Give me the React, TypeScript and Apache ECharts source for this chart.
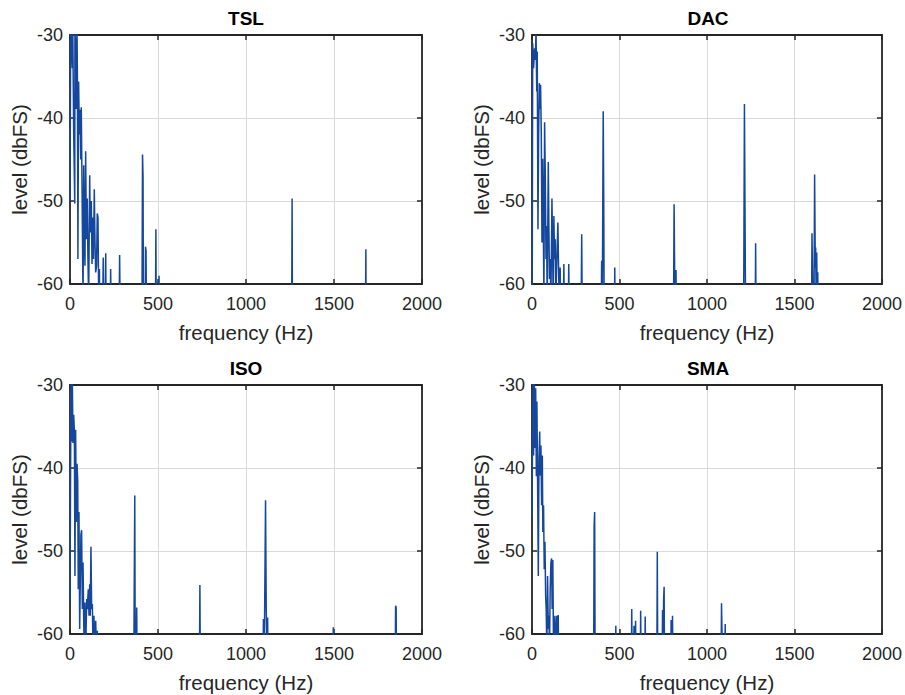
import React, { useEffect, useRef } from "react";
import * as echarts from "echarts";

// ---- Data ----
const freqTicks = [0, 500, 1000, 1500, 2000];
const levelTicks = [-60, -50, -40, -30];

const tslFreq = [0, 4, 8, 13, 15, 21, 27, 28, 32, 36, 40, 42, 45, 49, 53, 57, 61, 64, 68, 74, 78, 81, 85, 89, 93, 98, 102, 106, 112, 115, 121, 125, 129, 133, 138, 142, 146, 151, 155, 159, 163, 167, 170, 184, 189, 193, 199, 203, 206, 227, 231, 235, 278, 282, 286, 408, 412, 415, 418, 426, 429, 432, 436, 484, 488, 491, 503, 506, 509, 1258, 1262, 1265, 1677, 1681, 1684, 2000];
const tslLevel = [-50, -29, -31, -34, -27, -42, -50.3, -29, -31, -38.9, -29.5, -35, -57, -35.6, -42, -39, -45, -38.7, -47.3, -62, -45.7, -53, -57.8, -44, -54.6, -49.7, -57, -62, -46.9, -53.8, -50, -57.6, -52, -57, -48.6, -55, -58.6, -57.8, -51.5, -52, -62, -58.2, -66, -66, -56.8, -66, -66, -56.3, -66, -66, -58.2, -66, -66, -56.5, -66, -70, -44.4, -47, -70, -70, -55.5, -56, -70, -70, -53.4, -70, -70, -59, -70, -72, -49.7, -72, -72, -55.8, -72, -72];

const dacFreq = [0, 4, 9, 15, 19, 23, 27, 30, 34, 38, 42, 45, 49, 53, 57, 61, 64, 68, 72, 76, 80, 83, 87, 93, 97, 100, 104, 108, 114, 117, 121, 125, 129, 133, 136, 142, 148, 151, 155, 161, 165, 178, 182, 186, 206, 210, 214, 280, 284, 288, 395, 398, 401, 404, 407, 410, 413, 470, 473, 476, 808, 812, 815, 818, 823, 826, 1209, 1214, 1217, 1219, 1222, 1275, 1278, 1281, 1597, 1600, 1605, 1612, 1615, 1619, 1621, 1624, 1627, 1630, 1633, 1636, 2000];
const dacLevel = [-75, -31, -34, -31.6, -33, -29.4, -36.8, -32, -53.4, -42, -35.8, -38.9, -36, -41.7, -55, -44.9, -51, -62, -40.5, -46.9, -57, -53, -62, -45.3, -54, -59.4, -57, -62, -49.7, -54.6, -62, -51.8, -57, -54.6, -62, -57, -52.6, -57, -62, -58, -66, -66, -57.6, -66, -66, -57.6, -66, -66, -54, -66, -66, -57.2, -66, -66, -39.2, -50, -66, -66, -58, -66, -66, -50.4, -58, -66, -58.3, -66, -66, -38.3, -50, -58.2, -66, -66, -55.1, -66, -66, -53.9, -62, -60, -46.8, -58, -55.6, -62, -56.2, -62, -58.6, -66, -66];

const isoFreq = [0, 6, 9, 13, 17, 21, 25, 28, 32, 36, 40, 44, 47, 51, 55, 59, 62, 66, 70, 74, 78, 81, 85, 89, 95, 98, 104, 108, 112, 115, 119, 123, 127, 131, 136, 140, 146, 150, 155, 159, 362, 364, 368, 371, 376, 379, 382, 735, 738, 741, 1096, 1099, 1104, 1108, 1111, 1115, 1119, 1123, 1126, 1493, 1496, 1499, 1847, 1850, 1853, 1856, 2000];
const isoLevel = [-56, -28, -36.8, -29, -37, -33.6, -35.6, -53, -35.4, -46.5, -39.5, -41.7, -54.6, -45.3, -59.4, -53, -48, -47.5, -57, -51.4, -58.6, -62, -56.2, -62, -55.8, -57, -54.6, -57.8, -54, -57.8, -49.5, -57, -56.4, -62, -57.8, -62, -58.4, -62, -59.6, -66, -66, -58, -43.3, -66, -66, -56.8, -66, -66, -54.1, -66, -66, -58.2, -62, -52, -43.9, -57, -62, -58, -66, -66, -59.2, -66, -66, -56.6, -56.8, -66, -66];

const smaFreq = [0, 6, 9, 13, 17, 21, 25, 28, 32, 36, 40, 44, 47, 51, 55, 59, 62, 66, 70, 74, 78, 81, 85, 89, 93, 97, 100, 104, 108, 112, 115, 119, 123, 131, 134, 142, 146, 150, 153, 352, 355, 358, 361, 476, 479, 482, 567, 570, 573, 580, 583, 586, 589, 592, 595, 618, 621, 624, 644, 647, 650, 713, 716, 719, 743, 746, 749, 752, 755, 758, 792, 795, 798, 800, 803, 806, 1080, 1083, 1086, 1089, 1101, 1104, 1107, 2000];
const smaLevel = [-46, -28, -38.5, -28.5, -37.6, -30.4, -41, -32, -41.7, -53, -38.9, -35.6, -40.9, -37.3, -44.5, -38.5, -47.7, -44.5, -52.2, -48.9, -55.4, -57, -62, -53, -59.4, -57.8, -62, -54.6, -51.4, -50.9, -57, -51.1, -62, -57.8, -62, -57.8, -62, -57.7, -66, -66, -47, -45.3, -66, -66, -59, -66, -66, -57, -66, -66, -59, -66, -66, -58.4, -66, -66, -57.2, -66, -66, -57.9, -66, -66, -50.1, -66, -66, -57.1, -62, -56, -54.3, -66, -66, -58.3, -66, -66, -57.8, -66, -66, -56.3, -60, -66, -66, -58.8, -66, -66];

const panelTitles = ["TSL", "DAC", "ISO", "SMA"];
const panelFreqs = [tslFreq, dacFreq, isoFreq, smaFreq];
const panelLevels = [tslLevel, dacLevel, isoLevel, smaLevel];

// ---- Layout / style ----
const GRID_POS = [
  { left: 70, top: 35 },
  { left: 532, top: 35 },
  { left: 70, top: 385 },
  { left: 532, top: 385 },
];
const GRID_W = 352;
const GRID_H = 249;
const AXIS_COLOR = "#262626";
const GRID_COLOR = "#d9d9d9";
const LINE_COLOR = "#15479E";
const FONT = '"Liberation Sans", Arial, Helvetica, sans-serif';

export default function App() {
  const ref = useRef<HTMLDivElement>(null);

  useEffect(() => {
    if (!ref.current) return;
    const chart = echarts.init(ref.current, undefined, { renderer: "svg" });

    const grid: any[] = [];
    const xAxis: any[] = [];
    const yAxis: any[] = [];
    const series: any[] = [];
    const graphic: any[] = [];

    const axisLine = { show: true, onZero: false, lineStyle: { color: AXIS_COLOR, width: 1.8 } };
    const axisTick = { show: true, inside: true, length: 5, lineStyle: { color: AXIS_COLOR, width: 1.5 } };
    const plain = (v: number) => String(v);

    panelTitles.forEach((title, i) => {
      const pos = GRID_POS[i];
      grid.push({ left: pos.left, top: pos.top, width: GRID_W, height: GRID_H, containLabel: false });

      xAxis.push({
        gridIndex: i,
        type: "value",
        position: "bottom",
        min: freqTicks[0],
        max: freqTicks[freqTicks.length - 1],
        interval: freqTicks[1] - freqTicks[0],
        axisLine,
        axisTick,
        axisLabel: { color: AXIS_COLOR, fontSize: 18, margin: 11, fontFamily: FONT, formatter: plain },
        splitLine: { show: true, lineStyle: { color: GRID_COLOR, width: 1 } },
        name: "frequency (Hz)",
        nameLocation: "middle",
        nameGap: 38,
        nameTextStyle: { color: AXIS_COLOR, fontSize: 20.5, fontFamily: FONT },
      });
      xAxis.push({
        gridIndex: i,
        type: "value",
        position: "top",
        min: freqTicks[0],
        max: freqTicks[freqTicks.length - 1],
        interval: freqTicks[1] - freqTicks[0],
        axisLine,
        axisTick,
        axisLabel: { show: false },
        splitLine: { show: false },
      });
      yAxis.push({
        gridIndex: i,
        type: "value",
        position: "left",
        min: levelTicks[0],
        max: levelTicks[levelTicks.length - 1],
        interval: levelTicks[1] - levelTicks[0],
        axisLine,
        axisTick,
        axisLabel: { color: AXIS_COLOR, fontSize: 18, margin: 7, fontFamily: FONT, formatter: plain },
        splitLine: { show: true, lineStyle: { color: GRID_COLOR, width: 1 } },
        name: "level (dbFS)",
        nameLocation: "middle",
        nameGap: 40,
        nameTextStyle: { color: AXIS_COLOR, fontSize: 20.5, fontFamily: FONT },
      });
      yAxis.push({
        gridIndex: i,
        type: "value",
        position: "right",
        min: levelTicks[0],
        max: levelTicks[levelTicks.length - 1],
        interval: levelTicks[1] - levelTicks[0],
        axisLine,
        axisTick,
        axisLabel: { show: false },
        splitLine: { show: false },
      });

      const f = panelFreqs[i];
      const l = panelLevels[i];
      series.push({
        type: "line",
        xAxisIndex: i * 2,
        yAxisIndex: i * 2,
        data: f.map((v, j) => [v, l[j]]),
        showSymbol: false,
        symbol: "none",
        clip: true,
        lineStyle: { color: LINE_COLOR, width: 1.5 },
        itemStyle: { color: LINE_COLOR },
        z: 1,
      });

      graphic.push({
        type: "text",
        x: pos.left + GRID_W / 2,
        y: pos.top - 17,
        style: {
          text: title,
          fontSize: 19,
          fontWeight: "bold",
          fontFamily: FONT,
          fill: "#000",
          textAlign: "center",
          textVerticalAlign: "middle",
        },
      });
    });

    chart.setOption({
      animation: false,
      backgroundColor: "#fff",
      grid,
      xAxis,
      yAxis,
      series,
      graphic,
    });

    return () => chart.dispose();
  }, []);

  return (
    <div
      ref={ref}
      style={{ position: "absolute", left: 0, top: 0, width: 905, height: 695 }}
    />
  );
}
